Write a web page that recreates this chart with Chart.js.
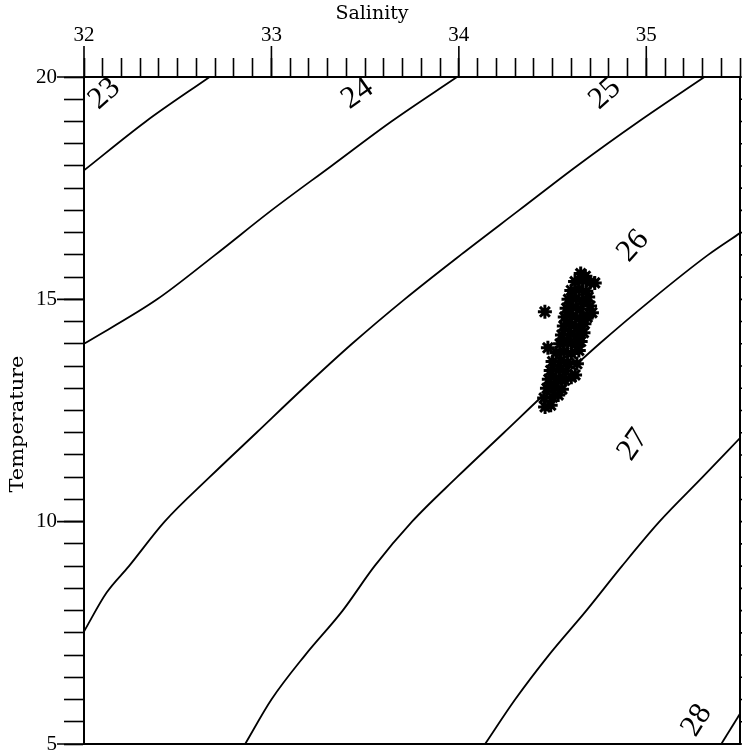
<!DOCTYPE html>
<html>
<head>
<meta charset="utf-8">
<script src="https://cdn.jsdelivr.net/npm/chart.js@4/dist/chart.umd.min.js"></script>
<style>
  html, body { margin: 0; padding: 0; background: #fff; overflow: hidden; }
  #wrap { width: 742px; height: 755px; }
</style>
</head>
<body>
<div id="wrap"><canvas id="tsChart"></canvas></div>
<script>
// isopycnal lines (sigma-t) as [salinity, temperature]
const sigmaLevels = ['23', '24', '25', '26', '27', '28'];
const iso23 = [[32.0, 17.9], [32.33, 19], [32.67, 20]];
const iso24 = [[32.0, 14.0], [32.39, 15], [32.70, 16], [33.0, 17], [33.32, 18], [33.64, 19], [33.99, 20]];
const iso25 = [[32.0, 7.53], [32.12, 8.4], [32.24, 9], [32.43, 10], [32.67, 11], [32.92, 12], [33.17, 13],
               [33.43, 14], [33.71, 15], [34.01, 16], [34.32, 17], [34.63, 18], [34.96, 19], [35.31, 20]];
const iso26 = [[32.86, 5], [33.0, 6], [33.18, 7], [33.38, 8], [33.55, 9], [33.75, 10], [33.99, 11],
               [34.24, 12], [34.49, 13], [34.75, 14], [35.03, 15], [35.33, 16], [35.5, 16.49]];
const iso27 = [[34.14, 5], [34.30, 6], [34.48, 7], [34.68, 8], [34.87, 9], [35.07, 10], [35.30, 11], [35.5, 11.88]];
const iso28 = [[35.40, 5], [35.5, 5.68]];
// where each sigma-t label sits, [salinity, temperature]
const labelAt = [[32.11, 19.62], [33.46, 19.62], [34.78, 19.62], [34.93, 16.2], [34.93, 11.73], [35.27, 5.53]];

// observations
const salinity = [34.46, 34.49, 34.455, 34.50, 34.53, 34.47, 34.51, 34.55, 34.48, 34.52,
                  34.565, 34.60, 34.49, 34.535, 34.57, 34.62, 34.50, 34.545, 34.58, 34.63,
                  34.52, 34.56, 34.60, 34.64, 34.54, 34.58, 34.62, 34.65, 34.55, 34.595,
                  34.63, 34.665, 34.56, 34.60, 34.64, 34.67, 34.565, 34.605, 34.645, 34.685,
                  34.575, 34.61, 34.65, 34.70, 34.585, 34.625, 34.66, 34.69, 34.60, 34.64,
                  34.68, 34.62, 34.66, 34.70, 34.65, 34.675, 34.459, 34.475, 34.725, 34.71];
const temperature = [12.58, 12.62, 12.78, 12.80, 12.85, 13.0, 13.02, 12.98, 13.2, 13.22,
                     13.18, 13.25, 13.4, 13.42, 13.38, 13.3, 13.6, 13.62, 13.58, 13.55,
                     13.8, 13.82, 13.78, 13.85, 14.0, 14.02, 13.98, 14.05, 14.2, 14.22,
                     14.18, 14.25, 14.4, 14.42, 14.38, 14.45, 14.6, 14.62, 14.58, 14.6,
                     14.8, 14.82, 14.78, 14.85, 15.0, 15.02, 14.98, 15.05, 15.2, 15.22,
                     15.18, 15.4, 15.42, 15.38, 15.58, 15.52, 14.72, 13.91, 15.37, 14.70];

const xMajor = [32, 33, 34, 35];
const yMajor = [5, 10, 15, 20];

const serif = "'Liberation Serif', 'DejaVu Serif', serif";
const titleSerif = "'DejaVu Serif', serif";
Chart.defaults.font.family = serif;
Chart.defaults.color = '#000';

function toPts(arr) { return arr.map(p => ({ x: p[0], y: p[1] })); }
const isoLines = [iso23, iso24, iso25, iso26, iso27, iso28];

const datasets = isoLines.map((arr, i) => ({
  type: 'line',
  label: 'sigma-t ' + sigmaLevels[i],
  data: toPts(arr),
  borderColor: '#000',
  borderWidth: 1.8,
  pointRadius: 0,
  cubicInterpolationMode: 'monotone',
  fill: false
}));
datasets.push({
  type: 'scatter',
  label: 'stations',
  data: salinity.map((s, i) => ({ x: s, y: temperature[i] })),
  pointStyle: 'star',
  pointRadius: 7,
  borderColor: '#000',
  backgroundColor: '#000',
  borderWidth: 3
});

const decorations = {
  id: 'decorations',
  afterDraw(chart) {
    const { ctx, chartArea: a, scales } = chart;
    const xs = scales.x, ys = scales.y;
    ctx.save();
    ctx.strokeStyle = '#000';
    ctx.lineWidth = 2;
    // bottom and right frame
    ctx.beginPath();
    ctx.moveTo(a.left, a.bottom); ctx.lineTo(a.right, a.bottom); ctx.lineTo(a.right, a.top);
    ctx.stroke();
    // longer major ticks
    ctx.lineWidth = 1.6;
    ctx.beginPath();
    xMajor.forEach(v => { const px = xs.getPixelForValue(v); ctx.moveTo(px, a.top); ctx.lineTo(px, a.top - 31); });
    yMajor.forEach(v => { const py = ys.getPixelForValue(v); ctx.moveTo(a.left, py); ctx.lineTo(a.left - 27, py); });
    // stubs of right-hand ticks
    ys.ticks.forEach(t => { const py = ys.getPixelForValue(t.value); ctx.moveTo(a.right, py); ctx.lineTo(a.right + 4, py); });
    ctx.stroke();
    // sigma-t labels
    const angles = [-42, -35, -42, -48, -55, -58];
    ctx.fillStyle = '#000';
    ctx.font = '31px ' + serif;
    ctx.textAlign = 'center';
    ctx.textBaseline = 'middle';
    labelAt.forEach((p, i) => {
      ctx.save();
      ctx.translate(xs.getPixelForValue(p[0]), ys.getPixelForValue(p[1]));
      ctx.rotate(angles[i] * Math.PI / 180);
      ctx.fillText(sigmaLevels[i], 0, 0);
      ctx.restore();
    });
    // axis titles
    ctx.font = '19px ' + titleSerif;
    ctx.fillText('Salinity', 372, 14);
    ctx.save();
    ctx.translate(18, 424);
    ctx.rotate(-Math.PI / 2);
    ctx.scale(1.1, 1);
    ctx.fillText('Temperature', 0, 0);
    ctx.restore();
    ctx.restore();
  }
};

new Chart(document.getElementById('tsChart'), {
  type: 'scatter',
  data: { datasets },
  options: {
    responsive: true,
    maintainAspectRatio: false,
    animation: false,
    // no auto padding, or the star markers push the right edge in
    layout: { autoPadding: false, padding: { left: 0, top: 0, right: 2, bottom: 11 } },
    plugins: { legend: { display: false }, tooltip: { enabled: false } },
    scales: {
      x: {
        type: 'linear',
        position: 'top',
        min: 32,
        max: 35.5,
        afterFit: s => { s.height = 77; s.paddingLeft = 0; s.paddingRight = 0; },
        border: { color: '#000', width: 2 },
        grid: { drawOnChartArea: false, tickLength: 19, tickColor: '#000', tickWidth: 1.6 },
        ticks: {
          stepSize: 0.1,
          autoSkip: false,
          maxRotation: 0,
          padding: 10,
          font: { size: 21 },
          callback: v => Math.abs(v - Math.round(v)) < 1e-6 ? String(Math.round(v)) : ''
        }
      },
      y: {
        type: 'linear',
        min: 5,
        max: 20,
        afterFit: s => { s.width = 84; s.paddingTop = 0; s.paddingBottom = 0; },
        border: { color: '#000', width: 2 },
        grid: { drawOnChartArea: false, tickLength: 20, tickColor: '#000', tickWidth: 1.6 },
        ticks: {
          stepSize: 0.5,
          autoSkip: false,
          padding: 7,
          font: { size: 21 },
          callback: v => Math.abs(v / 5 - Math.round(v / 5)) < 1e-6 ? String(Math.round(v)) : ''
        }
      }
    }
  },
  plugins: [decorations]
});
</script>
</body>
</html>
